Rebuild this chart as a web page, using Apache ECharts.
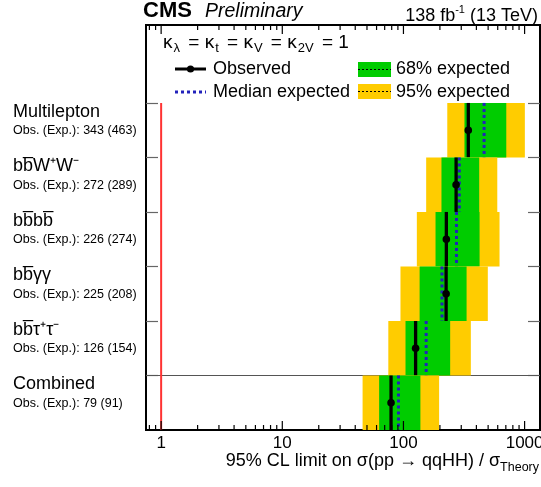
<!DOCTYPE html>
<html>
<head>
<meta charset="utf-8">
<script src="https://cdn.jsdelivr.net/npm/echarts@6/dist/echarts.min.js"></script>
<style>
html, body { margin: 0; padding: 0; background: #fff; }
#chart { width: 541px; height: 487px; }
</style>
</head>
<body>
<div id="chart"></div>
<script>
// channels, top to bottom
var channels = ['Multilepton', 'bb\u0305W\u207AW\u207B', 'bb\u0305bb\u0305', 'bb\u0305\u03B3\u03B3', 'bb\u0305\u03C4\u207A\u03C4\u207B', 'Combined'];
var observed = [343, 272, 226, 225, 126, 79];
var expected = [463, 289, 274, 208, 154, 91];
var lo95 = [230, 154, 129, 94.5, 75, 46];
var lo68 = [319, 206, 184, 136, 104, 63];
var hi68 = [706, 422, 425, 332, 243, 138];
var hi95 = [1005, 595, 621, 497, 360, 197];

var majorTicks = [1, 10, 100, 1000];
var minorTicks = [0.8, 0.9, 2, 3, 4, 5, 6, 7, 8, 9, 20, 30, 40, 50, 60, 70, 80, 90,
    200, 300, 400, 500, 600, 700, 800, 900];
var rowTicks = [1, 2, 3, 4, 5, 6];

var X_MIN = 0.75, X_MAX = 1340;
var Y_MAX = 7.43;
var FONT = '"Liberation Sans", Arial, sans-serif';
var GREEN = '#00cc00', YELLOW = '#ffcc00', BLUE = '#2222bb';

var nRows = channels.length;
var bandData = channels.map(function(c, k) {
    return [nRows - 1 - k, lo95[k], lo68[k], hi68[k], hi95[k], expected[k], observed[k]];
});
var labelData = channels.map(function(c, k) {
    return [X_MIN, nRows - 1 - k, k];
});
var tickData = majorTicks.map(function(v) { return [v, 0, 1]; })
    .concat(minorTicks.map(function(v) { return [v, 0, 0]; }));

var myChart = echarts.init(document.getElementById('chart'));

function yTick(pos) {
    return {
        type: 'value', position: pos, min: 0, max: Y_MAX,
        axisLine: {show: false}, axisLabel: {show: false}, splitLine: {show: false},
        axisTick: {show: true, inside: true, length: 12, customValues: rowTicks,
            lineStyle: {color: '#666', width: 1.2}}
    };
}

myChart.setOption({
    animation: false,
    grid: {left: 146, right: 1, top: 25, bottom: 57, show: true, containLabel: false,
        outerBoundsMode: 'none',
        borderColor: '#000', borderWidth: 2, backgroundColor: 'transparent'},
    xAxis: {
        type: 'log', logBase: 10, min: X_MIN, max: X_MAX,
        axisLine: {show: false}, axisTick: {show: false}, splitLine: {show: false},
        axisLabel: {
            margin: 5, color: '#000', fontFamily: FONT, fontSize: 17,
            formatter: function(v) {
                var l = Math.log10(v);
                return Math.abs(l - Math.round(l)) < 1e-6 ? String(Math.round(v)) : '';
            }
        }
    },
    yAxis: [yTick('left'), yTick('right')],
    graphic: [
        {type: 'text', x: 143, y: 11, style: {text: 'CMS', font: 'bold 22px ' + FONT, fill: '#000', verticalAlign: 'middle'}},
        {type: 'text', x: 205, y: 11.5, style: {text: 'Preliminary', font: 'italic 19.5px ' + FONT, fill: '#000', verticalAlign: 'middle'}},
        {type: 'text', x: 538, y: 4, style: {
            text: '{a|138 fb}{s|-1}{a| (13 TeV)}', align: 'right', verticalAlign: 'top',
            rich: {
                a: {font: '18px ' + FONT, fill: '#000', lineHeight: 21, verticalAlign: 'bottom'},
                s: {font: '11px ' + FONT, fill: '#000', lineHeight: 12, verticalAlign: 'top'}
            }}},
        {type: 'text', x: 163, y: 33, style: {
            text: '{k|\u03BA}{s|\u03BB}{k| = \u03BA}{s|t}{k| = \u03BA}{s|V}{k| = \u03BA}{s|2V}{k| = 1}',
            verticalAlign: 'top',
            rich: {
                k: {font: '19px ' + FONT, fill: '#000', lineHeight: 22, verticalAlign: 'top'},
                s: {font: '13px ' + FONT, fill: '#000', lineHeight: 12, verticalAlign: 'bottom', padding: [0, 3, 0, 1]}
            }}},
        // legend
        {type: 'line', shape: {x1: 175, y1: 69, x2: 206, y2: 69}, style: {stroke: '#000', lineWidth: 3}},
        {type: 'circle', shape: {cx: 190.5, cy: 69, r: 3.6}, style: {fill: '#000'}},
        {type: 'text', x: 213, y: 69, style: {text: 'Observed', font: '18px ' + FONT, fill: '#000', verticalAlign: 'middle'}},
        {type: 'line', shape: {x1: 175, y1: 92, x2: 206, y2: 92}, style: {stroke: BLUE, lineWidth: 3, lineDash: [3, 3]}},
        {type: 'text', x: 213, y: 92, style: {text: 'Median expected', font: '18px ' + FONT, fill: '#000', verticalAlign: 'middle'}},
        {type: 'rect', shape: {x: 358, y: 62, width: 33, height: 15}, style: {fill: GREEN}},
        {type: 'line', shape: {x1: 358, y1: 69.5, x2: 391, y2: 69.5}, style: {stroke: '#000', lineWidth: 1, lineDash: [2, 2]}},
        {type: 'text', x: 396, y: 69, style: {text: '68% expected', font: '18px ' + FONT, fill: '#000', verticalAlign: 'middle'}},
        {type: 'rect', shape: {x: 358, y: 84, width: 33, height: 15}, style: {fill: YELLOW}},
        {type: 'line', shape: {x1: 358, y1: 91.5, x2: 391, y2: 91.5}, style: {stroke: '#000', lineWidth: 1, lineDash: [2, 2]}},
        {type: 'text', x: 396, y: 92, style: {text: '95% expected', font: '18px ' + FONT, fill: '#000', verticalAlign: 'middle'}},
        // axis title
        {type: 'text', x: 539, y: 452, style: {
            text: '{m|95% CL limit on \u03C3(pp \u2192 qqHH) / \u03C3}{s|Theory}', align: 'right', verticalAlign: 'top',
            rich: {
                m: {font: '18px ' + FONT, fill: '#000', lineHeight: 22, verticalAlign: 'top'},
                s: {font: '12.5px ' + FONT, fill: '#000', lineHeight: 12, verticalAlign: 'bottom'}
            }}}
    ],
    series: [
        {
            // separator between channels and combined
            type: 'line', silent: true, symbol: 'none',
            data: [[X_MIN, 1], [X_MAX, 1]],
            lineStyle: {color: '#555', width: 1.2}, z: 1
        },
        {
            // SM line
            type: 'line', silent: true, symbol: 'none',
            data: [[1, 0], [1, nRows]],
            lineStyle: {color: '#ff3333', width: 2}, z: 1
        },
        {
            type: 'custom', silent: true, z: 2,
            data: bandData,
            encode: {x: [1, 2, 3, 4, 5, 6], y: 0},
            renderItem: function(params, api) {
                var r = api.value(0);
                var yt = api.coord([1, r + 1])[1];
                var yb = api.coord([1, r])[1];
                var ym = (yt + yb) / 2;
                function px(i) { return api.coord([api.value(i), r])[0]; }
                var x95a = px(1), x68a = px(2), x68b = px(3), x95b = px(4), xe = px(5), xo = px(6);
                return {type: 'group', children: [
                    {type: 'rect', shape: {x: x95a, y: yt, width: x95b - x95a, height: yb - yt}, style: {fill: YELLOW}},
                    {type: 'rect', shape: {x: x68a, y: yt, width: x68b - x68a, height: yb - yt}, style: {fill: GREEN}},
                    {type: 'line', shape: {x1: xe, y1: yt, x2: xe, y2: yb}, style: {stroke: BLUE, lineWidth: 3, lineDash: [3, 3]}},
                    {type: 'line', shape: {x1: xo, y1: yt, x2: xo, y2: yb}, style: {stroke: '#000', lineWidth: 3.3}},
                    {type: 'circle', shape: {cx: xo, cy: ym, r: 3.8}, style: {fill: '#000'}}
                ]};
            }
        },
        {
            // x axis ticks, bottom and top
            type: 'custom', silent: true, z: 3,
            data: tickData,
            encode: {x: 0, y: 1},
            renderItem: function(params, api) {
                var v = api.value(0);
                var len = api.value(2) ? 9 : 5;
                var b = api.coord([v, 0]);
                var t = api.coord([v, Y_MAX]);
                return {type: 'group', children: [
                    {type: 'line', shape: {x1: b[0], y1: b[1], x2: b[0], y2: b[1] - len}, style: {stroke: '#000', lineWidth: 1.2}},
                    {type: 'line', shape: {x1: t[0], y1: t[1], x2: t[0], y2: t[1] + len}, style: {stroke: '#000', lineWidth: 1.2}}
                ]};
            }
        },
        {
            // channel labels on the left
            type: 'custom', silent: true, clip: false,
            data: labelData,
            encode: {x: 0, y: 1},
            renderItem: function(params, api) {
                var k = api.value(2);
                var top = api.coord([X_MIN, api.value(1) + 1])[1];
                var x0 = params.coordSys.x - 133;
                return {type: 'group', children: [
                    {type: 'text', style: {x: x0, y: top + 9, text: channels[k], font: '18px ' + FONT,
                        fill: '#000', verticalAlign: 'middle'}},
                    {type: 'text', style: {x: x0, y: top + 28,
                        text: 'Obs. (Exp.): ' + observed[k] + ' (' + expected[k] + ')',
                        font: '12.5px ' + FONT, fill: '#000', verticalAlign: 'middle'}}
                ]};
            }
        }
    ]
});
window.onresize = myChart.resize;
</script>
</body>
</html>
